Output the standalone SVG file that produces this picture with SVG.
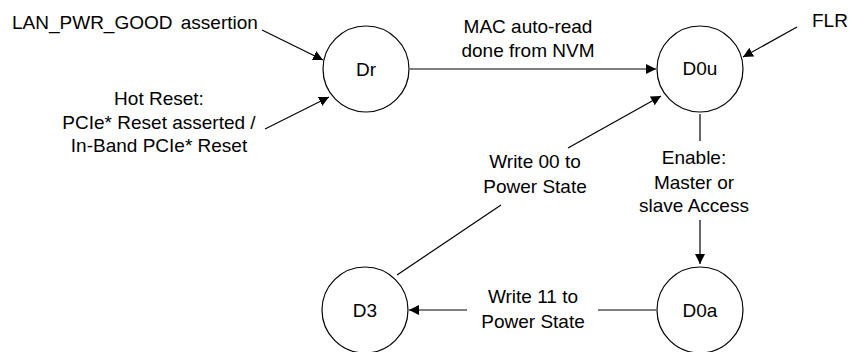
<svg xmlns="http://www.w3.org/2000/svg" width="853" height="352" viewBox="0 0 853 352">
<style>
.n{fill:#fff;stroke:#000;stroke-width:1.2}
.t{font-family:"Liberation Sans",Arial,sans-serif;font-size:19px;fill:#000}
.c{text-anchor:middle}
.l{stroke:#000;stroke-width:1.2;fill:none}
</style>
<defs>
<marker id="a" viewBox="0 0 10 10" refX="10" refY="5" markerWidth="10" markerHeight="10" markerUnits="userSpaceOnUse" orient="auto">
<path d="M0,0 L10,5 L0,10 z" fill="#000"/>
</marker>
</defs>
<rect width="853" height="352" fill="#fff"/>
<g id="connectors">
<line class="l" x1="410" y1="69" x2="656" y2="69" marker-end="url(#a)"/>
<line class="l" x1="262" y1="30" x2="323" y2="60" marker-end="url(#a)"/>
<line class="l" x1="265" y1="129" x2="329" y2="97" marker-end="url(#a)"/>
<line class="l" x1="797" y1="27" x2="743" y2="57" marker-end="url(#a)"/>
<line class="l" x1="700" y1="114" x2="700" y2="141"/>
<line class="l" x1="700" y1="220" x2="700" y2="264" marker-end="url(#a)"/>
<line class="l" x1="397" y1="275" x2="501" y2="205"/>
<line class="l" x1="568" y1="148" x2="661" y2="96" marker-end="url(#a)"/>
<line class="l" x1="656" y1="310" x2="598" y2="310"/>
<line class="l" x1="467" y1="310" x2="409" y2="310" marker-end="url(#a)"/>
<text class="t c" x="528" y="33">MAC auto-read</text>
<text class="t c" x="528" y="57">done from NVM</text>
<text class="t" x="12" y="29">LAN_PWR_GOOD <tspan dx="3">assertion</tspan></text>
<text class="t c" x="159" y="105">Hot Reset:</text>
<text class="t c" x="159" y="129">PCIe* Reset asserted /</text>
<text class="t c" x="159" y="152">In-Band PCIe* Reset</text>
<text class="t" x="812" y="27">FLR</text>
<text class="t c" x="694" y="164">Enable:</text>
<text class="t c" x="694" y="189">Master or</text>
<text class="t c" x="694" y="212">slave Access</text>
<text class="t c" x="535" y="168">Write 00 to</text>
<text class="t c" x="535" y="193">Power State</text>
<text class="t c" x="533" y="303">Write 11 to</text>
<text class="t c" x="533" y="328">Power State</text>
</g>
<g id="Dr"><circle class="n" cx="366" cy="69" r="43"/><text class="t c" x="366" y="76">Dr</text></g>
<g id="D0u"><circle class="n" cx="700" cy="69" r="43"/><text class="t c" x="700" y="75">D0u</text></g>
<g id="D3"><circle class="n" cx="365" cy="310" r="43"/><text class="t c" x="365" y="317">D3</text></g>
<g id="D0a"><circle class="n" cx="700" cy="310" r="43"/><text class="t c" x="700" y="317">D0a</text></g>
</svg>
